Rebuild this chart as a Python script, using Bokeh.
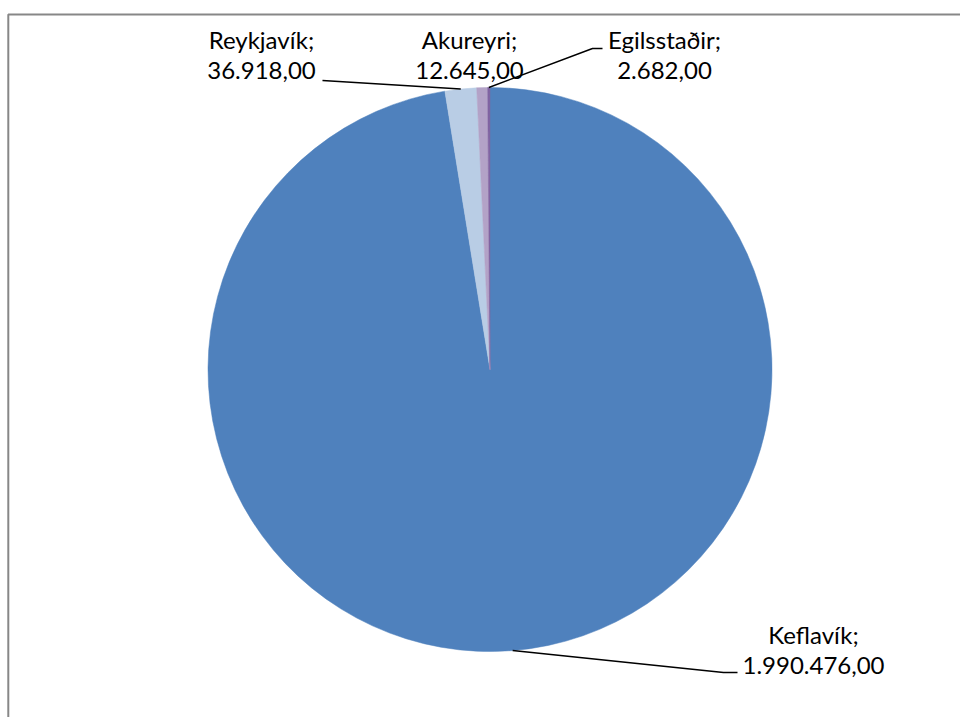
import math
from bokeh.plotting import figure
from bokeh.models import Range1d, ColumnDataSource
from bokeh.embed import file_html
from bokeh.resources import INLINE
from bokeh.core.properties import value

# ---- data ----
categories = ["Keflavík", "Reykjavík", "Akureyri", "Egilsstaðir"]
values = [1990476.00, 36918.00, 12645.00, 2682.00]
colors = ["#4F81BD", "#B9CDE5", "#B3A2C7", "#8064A2"]

# ---- layout (pixels, y measured from top) ----
W, H = 960, 717
CX, CY, R = 489.5, 369.0, 282.0
# label centre x, baseline of line 1, baseline of line 2
label_pos = {
    "Keflavík": (813, 634, 665),
    "Reykjavík": (261, 39, 70),
    "Akureyri": (469, 39, 70),
    "Egilsstaðir": (664, 39, 70),
}
# leader anchor points on the label side (None = no leader)
leader_anchor = {
    "Keflavík": [(737, 672), (723, 672)],
    "Reykjavík": [(322, 80)],
    "Akureyri": None,
    "Egilsstaðir": [(602, 48), (592, 48)],
}


def Y(ypx):
    return H - ypx


def fmt(v):
    s = f"{v:,.2f}"
    return s.replace(",", "X").replace(".", ",").replace("X", ".")


total = sum(values)
starts, ends, mids = [], [], []
acc = 0.0
for v in values:
    a0 = acc / total * 2 * math.pi
    acc += v
    a1 = acc / total * 2 * math.pi
    starts.append(math.pi / 2 - a1)
    ends.append(math.pi / 2 - a0)
    mids.append((a0 + a1) / 2)

p = figure(width=W, height=H, x_range=Range1d(0, W), y_range=Range1d(0, H),
           x_axis_type=None, y_axis_type=None, output_backend="svg",
           toolbar_location=None, min_border=0)
p.min_border_left = p.min_border_right = p.min_border_top = p.min_border_bottom = 0
p.grid.visible = False
p.outline_line_color = None
p.background_fill_color = "white"
p.border_fill_color = "white"

# chart area border (top and left edges visible)
p.line([7.8, 7.8, W + 10], [Y(H + 10), Y(14), Y(14)], line_color="#878787", line_width=2)

src = ColumnDataSource(dict(start=starts, end=ends, color=colors, cat=categories))
p.wedge(x=CX, y=Y(CY), radius=R, start_angle="start", end_angle="end",
        fill_color="color", line_color="color", line_width=0.5, source=src)

# leaders
xs, ys = [], []
for cat, m in zip(categories, mids):
    anc = leader_anchor[cat]
    if not anc:
        continue
    px = CX + R * math.sin(m)
    py = CY - R * math.cos(m)
    pts = anc + [(px, py)]
    xs.append([q[0] for q in pts])
    ys.append([Y(q[1]) for q in pts])
p.multi_line(xs, ys, line_color="black", line_width=1.5)

# labels
tx, ty, tt = [], [], []
for cat, v in zip(categories, values):
    x, b1, b2 = label_pos[cat]
    tx += [x, x]
    ty += [Y(b1), Y(b2)]
    tt += [cat + ";", fmt(v)]
p.text(x=tx, y=ty, text=tt, text_font=value("Lato"), text_font_size="24px",
       text_align="center", text_baseline="alphabetic", text_color="black")

open("out.html", "w").write(file_html(p, INLINE))
